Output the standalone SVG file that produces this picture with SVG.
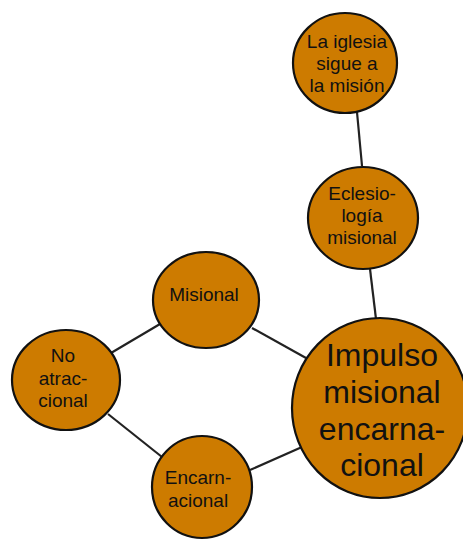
<svg xmlns="http://www.w3.org/2000/svg" width="463" height="540" viewBox="0 0 463 540">
<style>
.n{fill:#CD7B00;stroke:#111;stroke-width:2.2}
.c{stroke:#222;stroke-width:2.2;fill:none}
text{font-family:"Liberation Sans","DejaVu Sans",sans-serif;fill:#111;text-anchor:middle}
.s{font-size:19px}
.b{font-size:32px}
</style>
<rect width="463" height="540" fill="#fff"/>
<g id="connectors">
<line class="c" x1="357" y1="112" x2="362" y2="166"/>
<line class="c" x1="370" y1="269" x2="376" y2="319"/>
<line class="c" x1="252" y1="328" x2="306" y2="358"/>
<line class="c" x1="160" y1="324" x2="111" y2="353"/>
<line class="c" x1="108" y1="414" x2="162" y2="457"/>
<line class="c" x1="250" y1="470" x2="302" y2="447"/>
</g>
<g id="n1">
<ellipse class="n" cx="345" cy="63" rx="52" ry="50"/>
<text class="s" x="347" y="48">La iglesia</text>
<text class="s" x="347" y="70">sigue a</text>
<text class="s" x="347" y="92">la misión</text>
</g>
<g id="n2">
<ellipse class="n" cx="363" cy="218" rx="55" ry="51"/>
<text class="s" x="362" y="200">Eclesio-</text>
<text class="s" x="362" y="222">logía</text>
<text class="s" x="362" y="244">misional</text>
</g>
<g id="n3">
<ellipse class="n" cx="206" cy="300" rx="53" ry="48"/>
<text class="s" x="204" y="301">Misional</text>
</g>
<g id="n4">
<ellipse class="n" cx="66" cy="380" rx="54" ry="50"/>
<text class="s" x="63" y="362">No</text>
<text class="s" x="63" y="385">atrac-</text>
<text class="s" x="63" y="407">cional</text>
</g>
<g id="n5">
<ellipse class="n" cx="202" cy="487" rx="50" ry="51"/>
<text class="s" x="198" y="484">Encarn-</text>
<text class="s" x="198" y="507">acional</text>
</g>
<g id="n6">
<ellipse class="n" cx="380" cy="408" rx="88" ry="90"/>
<text class="b" x="382" y="366">Impulso</text>
<text class="b" x="382" y="403">misional</text>
<text class="b" x="382" y="440">encarna-</text>
<text class="b" x="382" y="476">cional</text>
</g>
</svg>
